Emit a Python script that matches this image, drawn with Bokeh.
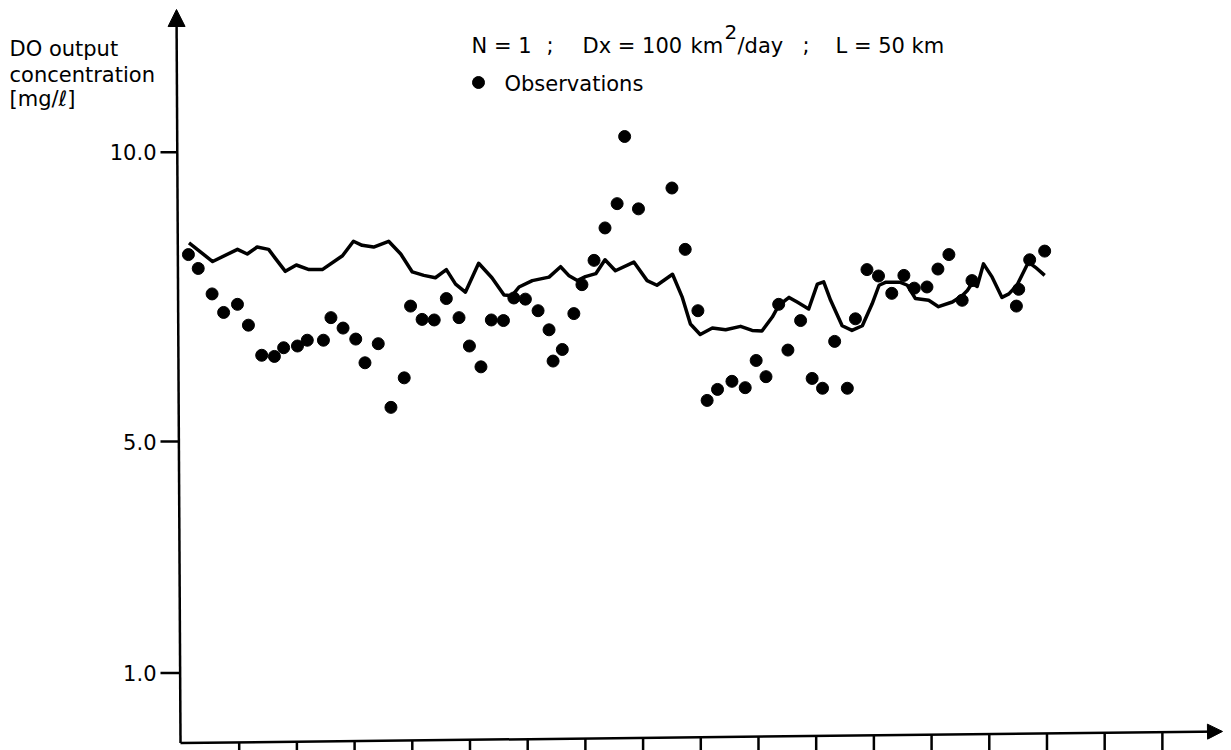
from bokeh.plotting import figure
from bokeh.models import Range1d, Label, Arrow, NormalHead
from bokeh.embed import file_html
from bokeh.resources import INLINE

# ---------------- data ----------------
# observations: day, DO concentration [mg/l]
obs_day = [1.2, 2.9, 5.3, 7.3, 9.7, 11.6, 13.9, 16.1, 17.7, 20.1,
           21.8, 24.6, 25.9, 28.0, 30.2, 31.8, 34.1, 36.3, 38.6, 39.7,
           41.7, 43.8, 45.9, 48.1, 49.9, 51.9, 53.7, 55.8, 57.6, 59.6,
           61.8, 63.7, 64.4, 66.0, 68.0, 69.4, 71.5, 73.4, 75.5, 76.8,
           79.2, 85.0, 87.3, 89.5, 91.1, 92.9, 95.4, 97.7, 99.6, 101.3,
           103.5, 105.1, 107.3, 109.3, 111.1, 113.2, 115.4, 116.8, 118.8, 120.8,
           123.1, 125.2, 127.0, 129.2, 131.1, 133.0, 135.3, 137.0, 144.7, 145.1,
           147.0, 149.6]
obs_do = [8.23, 7.99, 7.55, 7.23, 7.37, 7.01, 6.49, 6.47, 6.62, 6.65,
          6.75, 6.75, 7.14, 6.96, 6.77, 6.36, 6.69, 5.59, 6.10, 7.34,
          7.11, 7.10, 7.47, 7.14, 6.65, 6.29, 7.10, 7.09, 7.48, 7.46,
          7.26, 6.93, 6.39, 6.59, 7.21, 7.71, 8.13, 8.69, 9.11, 10.27,
          9.02, 9.38, 8.32, 7.26, 5.71, 5.90, 6.04, 5.93, 6.40, 6.12,
          7.37, 6.58, 7.09, 6.09, 5.92, 6.73, 5.92, 7.12, 7.97, 7.86,
          7.56, 7.87, 7.65, 7.67, 7.98, 8.23, 7.44, 7.78, 7.34, 7.63,
          8.14, 8.29]

# simulated DO output (model line)
sim_day = [1.3, 5.4, 9.7, 11.4, 13.1, 15.1, 16.3, 18.0, 19.9, 22.1,
           24.4, 27.9, 29.8, 31.3, 33.3, 35.9, 38.0, 40.0, 42.0, 44.0,
           45.9, 47.5, 49.2, 51.5, 53.8, 55.9, 57.3, 58.5, 60.8, 63.7,
           65.7, 67.1, 68.6, 70.0, 71.8, 73.4, 75.2, 78.4, 80.7, 82.4,
           85.1, 86.8, 88.2, 89.9, 92.0, 94.3, 96.9, 98.9, 100.6, 102.4,
           103.5, 105.3, 106.7, 108.7, 110.2, 111.3, 112.5, 114.5, 116.2, 118.0,
           119.7, 120.9, 122.0, 124.6, 125.8, 127.2, 129.5, 131.2, 133.6, 135.3,
           136.2, 137.0, 137.9, 139.0, 140.5, 142.2, 143.4, 144.8, 146.8, 148.0,
           149.6]
sim_do = [8.43, 8.11, 8.32, 8.24, 8.36, 8.32, 8.16, 7.94, 8.05, 7.97,
          7.97, 8.21, 8.46, 8.39, 8.36, 8.46, 8.24, 7.93, 7.87, 7.83,
          7.97, 7.72, 7.58, 8.08, 7.83, 7.53, 7.52, 7.67, 7.78, 7.84,
          8.02, 7.87, 7.78, 7.85, 7.90, 8.14, 7.95, 8.10, 7.78, 7.70,
          7.89, 7.49, 7.03, 6.85, 6.96, 6.93, 6.99, 6.92, 6.91, 7.15,
          7.35, 7.49, 7.41, 7.29, 7.72, 7.76, 7.44, 7.00, 6.92, 7.00,
          7.38, 7.70, 7.75, 7.75, 7.70, 7.47, 7.44, 7.33, 7.41, 7.52,
          7.61, 7.73, 7.68, 8.07, 7.84, 7.49, 7.55, 7.70, 8.10, 8.01,
          7.87]

y_ticks = [10.0, 5.0, 1.0]
y_tick_labels = ["10.0", "5.0", "1.0"]
x_ticks = [10, 20, 30, 40, 50, 60, 70, 80, 90, 100, 110, 120, 130, 140, 150, 160, 170]

# ---------------- layout ----------------
W, H = 1231, 750
X0, X1 = -31.37, 181.98
Y0, Y1 = -0.339, 12.62


def sx(px):
    return X0 + px * (X1 - X0) / W


def sy(py):
    return Y1 - py * (Y1 - Y0) / H


p = figure(width=W, height=H, x_range=Range1d(X0, X1), y_range=Range1d(Y0, Y1),
           output_backend="svg", toolbar_location=None,
           x_axis_location=None, y_axis_location=None, min_border=0)
p.grid.visible = False
p.outline_line_color = None
p.background_fill_color = "white"
p.border_fill_color = "white"

FONT = "DejaVu Sans"
FS = "21px"

# axes drawn by hand (slightly skewed, as in the scan)
ax_y_bot, ax_y_top = -0.21, -0.01     # x-axis height at left / right end
ax_x_left = -0.17
x_arrow_end = sx(1222)


def axis_y_at(x):
    return ax_y_bot + (ax_y_top - ax_y_bot) * (x - ax_x_left) / (x_arrow_end - ax_x_left)


p.add_layout(Arrow(x_start=ax_x_left, y_start=ax_y_bot, x_end=x_arrow_end, y_end=ax_y_top,
                   line_width=2.5, line_color="black",
                   end=NormalHead(size=15, fill_color="black", line_color="black")))
p.add_layout(Arrow(x_start=ax_x_left, y_start=ax_y_bot, x_end=sx(176), y_end=sy(9),
                   line_width=2.5, line_color="black",
                   end=NormalHead(size=17, fill_color="black", line_color="black")))

# x ticks (pointing down)
p.segment(x0=x_ticks, y0=[axis_y_at(t) for t in x_ticks], x1=x_ticks, y1=[sy(752)] * len(x_ticks),
          line_width=2.5, line_color="black")


# y ticks and labels
def axis_x_at(v):
    return ax_x_left + (sx(176) - ax_x_left) * (v - ax_y_bot) / (sy(9) - ax_y_bot)


p.segment(x0=[sx(160)] * len(y_ticks), y0=y_ticks, x1=[axis_x_at(v) for v in y_ticks], y1=y_ticks,
          line_width=2.5, line_color="black")
for v, lab in zip(y_ticks, y_tick_labels):
    p.add_layout(Label(x=sx(156), y=v, text=lab, text_align="right", text_baseline="middle",
                       text_font=FONT, text_font_size=FS, text_color="black"))

# y axis title
for txt, base in [("DO output", 48), ("concentration", 74), ("[mg/\u2113]", 98)]:
    p.add_layout(Label(x=sx(9), y=sy(base), text=txt, text_align="left", text_baseline="alphabetic",
                       text_font=FONT, text_font_size=FS, text_color="black"))

# header text
header = [("N = 1", 471, 45, FS), (";", 546, 45, FS), ("Dx = 100", 582, 45, FS), ("km", 690, 45, FS),
          ("2", 724, 31, "20px"), ("/day", 737, 45, FS), (";", 802, 45, FS), ("L = 50 km", 835, 45, FS),
          ("Observations", 504, 83, FS)]
for txt, px, py, fs in header:
    p.add_layout(Label(x=sx(px), y=sy(py), text=txt, text_align="left", text_baseline="alphabetic",
                       text_font=FONT, text_font_size=fs, text_color="black"))
p.scatter(x=[sx(478)], y=[sy(82)], size=12, marker="circle", fill_color="black", line_color="black")

# data
p.line(x=sim_day, y=sim_do, line_width=3.5, line_color="black", line_join="round")
p.scatter(x=obs_day, y=obs_do, size=12, marker="circle", fill_color="black", line_color="black")

open("out.html", "w").write(file_html(p, INLINE))
